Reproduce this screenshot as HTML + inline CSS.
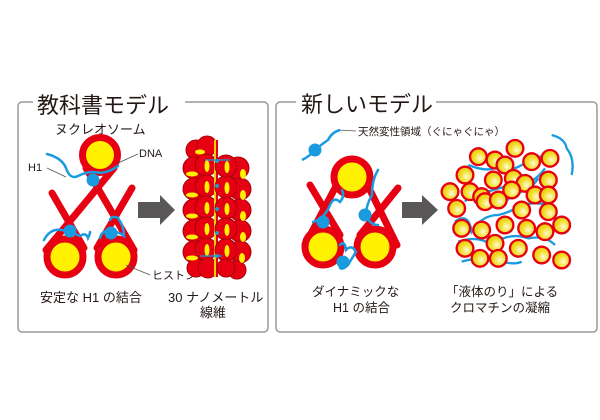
<!DOCTYPE html>
<html><head><meta charset="utf-8"><style>
html,body{margin:0;padding:0;background:#fff;}
svg{display:block;}
text{font-family:"Liberation Sans","Noto Sans CJK JP",sans-serif;fill:#231815;}
</style></head><body>
<svg width="600" height="420" viewBox="0 0 600 420" xmlns="http://www.w3.org/2000/svg">
<defs>
<radialGradient id="yg" cx="0.6" cy="0.6" r="0.6"><stop offset="0" stop-color="#fffbe0"/><stop offset="0.5" stop-color="#f5e23a"/><stop offset="1" stop-color="#e8c800"/></radialGradient>
</defs>
<rect x="18" y="102" width="250" height="230" rx="4" fill="none" stroke="#9a9a9a" stroke-width="1.5"/>
<rect x="276" y="102" width="321" height="230" rx="4" fill="none" stroke="#9a9a9a" stroke-width="1.5"/>
<rect x="33" y="88" width="152" height="24" fill="#fff"/>
<rect x="296" y="88" width="140" height="24" fill="#fff"/>
<text x="37" y="113" font-size="22">教科書モデル</text>
<text x="301" y="112" font-size="22">新しいモデル</text>

<!-- LEFT -->
<text x="55" y="134" font-size="13">ヌクレオソーム</text>
<g stroke="#e60012" stroke-width="7" fill="none" stroke-linecap="round">
<line x1="86" y1="168" x2="134" y2="250"/>
<line x1="114" y1="168" x2="46" y2="250"/>
<line x1="52" y1="193" x2="84" y2="248"/>
<line x1="132" y1="188" x2="97" y2="248"/>
<circle cx="100" cy="155" r="17.5" fill="#fff100"/>
<circle cx="65" cy="257" r="18" fill="#fff100"/>
<circle cx="116" cy="257" r="18" fill="#fff100"/>
</g>
<g stroke="#1a9be0" stroke-width="2.5" fill="none" stroke-linecap="round">
<path d="M47 154 Q62 158 66 168 Q70 180 78 176 Q90 170 100 173 Q110 172 118 166"/>
<path d="M44 240 Q50 228 62 230 Q72 232 80 236 Q86 232 88 238 Q90 234 90 232"/>
<path d="M100 238 Q102 230 110 231 Q118 231 124 236 Q124 226 118 218 Q112 215 110 220"/>
</g>
<g fill="#1a9be0"><circle cx="93" cy="180" r="6.5"/><circle cx="70" cy="231" r="6.5"/><circle cx="111" cy="233" r="6.5"/></g>
<g stroke="#555" stroke-width="0.8"><line x1="47" y1="168" x2="66" y2="177"/><line x1="118" y1="163" x2="138" y2="154"/><line x1="126" y1="265" x2="150" y2="275"/></g>
<text x="28" y="171" font-size="11">H1</text>
<text x="139" y="157" font-size="11">DNA</text>
<text x="152" y="279" font-size="11">ヒストン</text>
<polygon points="138,202 160,202 160,195 175,210 160,225 160,218 138,218" fill="#595757"/>
<!-- fiber -->
<g stroke="#a8000a" stroke-width="1" fill="#e60012">
<circle cx="196" cy="150" r="10"/><circle cx="207" cy="146" r="10"/>
<circle cx="238" cy="168" r="11"/><circle cx="240" cy="189" r="11"/><circle cx="240" cy="210" r="11"/><circle cx="240" cy="231" r="11"/><circle cx="240" cy="252" r="11"/><circle cx="237" cy="270" r="9"/>
<circle cx="194" cy="168" r="11"/><circle cx="194" cy="189" r="11"/><circle cx="194" cy="210" r="11"/><circle cx="194" cy="231" r="11"/><circle cx="194" cy="252" r="11"/><circle cx="196" cy="268" r="9"/>
<circle cx="206" cy="165" r="11"/><circle cx="206" cy="186" r="11"/><circle cx="206" cy="207" r="11"/><circle cx="206" cy="228" r="11"/><circle cx="206" cy="249" r="11"/><circle cx="208" cy="268" r="10"/>
</g>
<rect x="214" y="140" width="4" height="137" fill="#f5d000"/>
<rect x="216" y="140" width="2" height="137" fill="#e60012"/>
<g stroke="#a8000a" stroke-width="1" fill="#e60012">
<circle cx="226" cy="166" r="11"/><circle cx="226" cy="187" r="11"/><circle cx="226" cy="208" r="11"/><circle cx="226" cy="229" r="11"/><circle cx="226" cy="250" r="11"/><circle cx="226" cy="268" r="9"/>
</g>
<g fill="#fff100">
<ellipse cx="192" cy="174" rx="6" ry="2.5"/><ellipse cx="192" cy="195" rx="6" ry="2.5"/><ellipse cx="192" cy="216" rx="6" ry="2.5"/><ellipse cx="192" cy="237" rx="6" ry="2.5"/><ellipse cx="192" cy="258" rx="6" ry="2.5"/><ellipse cx="200" cy="152" rx="5" ry="2.5"/>
<ellipse cx="207" cy="166" rx="2.5" ry="6"/><ellipse cx="207" cy="187" rx="2.5" ry="6"/><ellipse cx="207" cy="208" rx="2.5" ry="6"/><ellipse cx="207" cy="229" rx="2.5" ry="6"/><ellipse cx="207" cy="250" rx="2.5" ry="6"/>
<ellipse cx="227" cy="167" rx="2.5" ry="6"/><ellipse cx="227" cy="188" rx="2.5" ry="6"/><ellipse cx="227" cy="209" rx="2.5" ry="6"/><ellipse cx="227" cy="230" rx="2.5" ry="6"/><ellipse cx="227" cy="251" rx="2.5" ry="6"/>
<ellipse cx="243" cy="174" rx="3" ry="5"/><ellipse cx="243" cy="195" rx="3" ry="5"/><ellipse cx="243" cy="216" rx="3" ry="5"/><ellipse cx="243" cy="237" rx="3" ry="5"/><ellipse cx="242" cy="258" rx="3" ry="5"/>
</g>
<g fill="#1a9be0"><circle cx="217" cy="161" r="2"/><circle cx="217" cy="186" r="2"/><circle cx="217" cy="209" r="2"/><circle cx="217" cy="233" r="2"/><circle cx="217" cy="256" r="2"/></g>
<path d="M205 160 L230 160" stroke="#1a9be0" stroke-width="1.2"/>
<path d="M200 256 L222 256" stroke="#1a9be0" stroke-width="1.2"/>
<text x="40" y="302" font-size="13">安定な H1 の結合</text>
<text x="168" y="302" font-size="13">30 ナノメートル</text>
<text x="200" y="317" font-size="13">線維</text>

<!-- RIGHT -->
<line x1="338" y1="130" x2="356" y2="131" stroke="#555" stroke-width="0.8"/>
<text x="358" y="135" font-size="10.5">天然変性領域（ぐにゃぐにゃ）</text>
<path d="M302 160 Q310 156 315 150 Q322 144 328 140 Q332 132 340 130" stroke="#1a9be0" stroke-width="2.5" fill="none"/>
<circle cx="315" cy="150" r="6.5" fill="#1a9be0"/>
<g stroke="#e60012" stroke-width="7" fill="none" stroke-linecap="round">
<line x1="310" y1="185" x2="340" y2="235"/>
<line x1="398" y1="188" x2="360" y2="235"/>
<line x1="335" y1="188" x2="305" y2="245"/>
<line x1="369" y1="188" x2="397" y2="245"/>
<circle cx="352" cy="177" r="18" fill="#fff100"/>
<circle cx="323" cy="247" r="18" fill="#fff100"/>
<circle cx="375" cy="247" r="18" fill="#fff100"/>
</g>
<g stroke="#1a9be0" stroke-width="2.5" fill="none" stroke-linecap="round">
<path d="M313 222 Q325 218 330 205 Q334 196 340 202 Q345 196 342 190"/>
<path d="M378 170 Q372 180 372 195 Q366 205 366 215 Q370 225 378 225"/>
<path d="M340 245 Q345 240 346 250 Q352 244 356 252 Q352 258 348 265 Q343 270 340 268"/>
</g>
<g fill="#1a9be0"><circle cx="323" cy="222" r="6.5"/><circle cx="365" cy="215" r="6.5"/><circle cx="343" cy="262" r="6.5"/></g>
<polygon points="402,202 422,202 422,195 438,210 422,225 422,218 402,218" fill="#595757"/>
<g transform="translate(435,135) scale(0.3333)">
<g stroke="#1a9be0" stroke-width="7" fill="none">
<path d="M350 0 Q390 10 395 40 Q420 70 410 120"/>
<path d="M100 90 Q150 110 180 100 Q230 110 260 90 Q300 70 330 60"/>
<path d="M90 200 Q120 160 160 170 Q210 150 270 150 Q310 130 330 100"/>
<path d="M60 260 Q100 230 110 290 Q140 240 190 240 Q230 230 260 210 Q300 200 340 210"/>
<path d="M70 320 Q130 300 170 330 Q220 290 280 310 Q330 300 360 330"/>
<path d="M80 380 Q150 360 200 380 Q240 390 260 380"/>
<path d="M200 220 Q220 180 260 170 Q290 160 310 130"/>
</g>
<g stroke="#e60012" stroke-width="7" fill="url(#yg)">
<circle cx="240" cy="40" r="25"/><circle cx="130" cy="65" r="25"/><circle cx="180" cy="75" r="25"/><circle cx="210" cy="90" r="25"/><circle cx="290" cy="80" r="25"/><circle cx="345" cy="70" r="25"/>
<circle cx="90" cy="120" r="25"/><circle cx="175" cy="135" r="25"/><circle cx="235" cy="130" r="25"/><circle cx="270" cy="145" r="25"/><circle cx="340" cy="135" r="25"/>
<circle cx="45" cy="170" r="25"/><circle cx="105" cy="170" r="25"/><circle cx="140" cy="185" r="25"/><circle cx="230" cy="165" r="25"/><circle cx="300" cy="180" r="25"/><circle cx="340" cy="180" r="25"/>
<circle cx="150" cy="200" r="25"/><circle cx="190" cy="195" r="25"/><circle cx="65" cy="220" r="25"/><circle cx="260" cy="225" r="25"/><circle cx="340" cy="230" r="25"/>
<circle cx="80" cy="280" r="25"/><circle cx="140" cy="285" r="25"/><circle cx="210" cy="270" r="25"/><circle cx="275" cy="280" r="25"/><circle cx="330" cy="290" r="25"/><circle cx="380" cy="270" r="25"/>
<circle cx="90" cy="340" r="25"/><circle cx="180" cy="325" r="25"/><circle cx="250" cy="340" r="25"/><circle cx="320" cy="360" r="25"/><circle cx="380" cy="375" r="25"/><circle cx="135" cy="370" r="25"/><circle cx="190" cy="370" r="25"/>
</g>
</g>
<text x="312" y="296" font-size="12.5">ダイナミックな</text>
<text x="333" y="312" font-size="12.5">H1 の結合</text>
<text x="446" y="296" font-size="12.5">「液体のり」による</text>
<text x="450" y="312" font-size="12.5">クロマチンの凝縮</text>
</svg>
</body></html>
